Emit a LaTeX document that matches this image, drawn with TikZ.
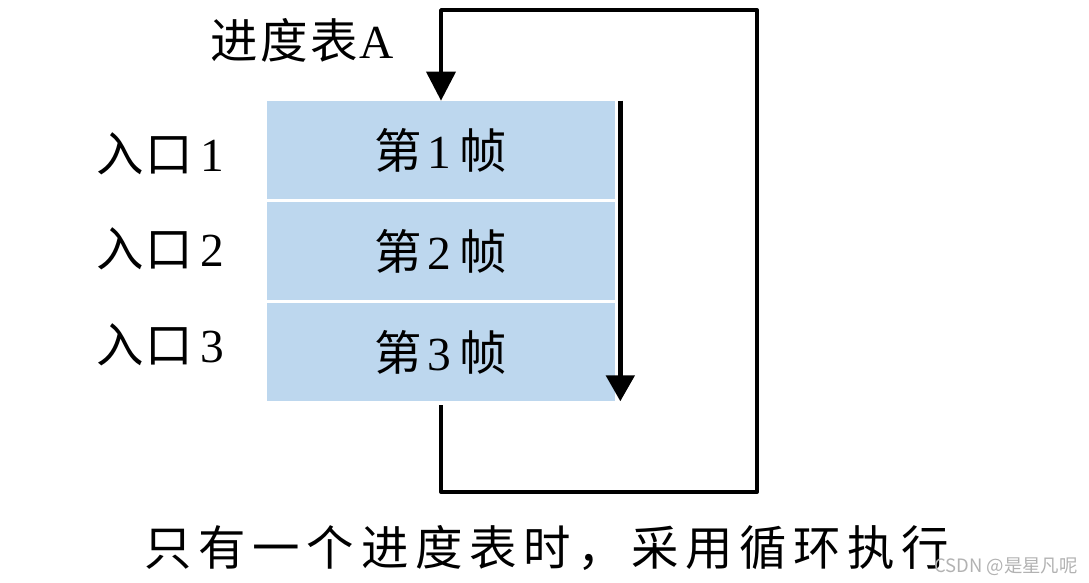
\documentclass[tikz,border=0pt]{standalone}
\usepackage{fontspec}
\setmainfont{Liberation Serif}
\newfontfamily\cjk{Noto Sans CJK SC}[LetterSpace=5]
\newfontfamily\cjkwide{Noto Sans CJK SC}[LetterSpace=14]
\newfontfamily\wmfont{Noto Sans CJK SC}
\usepackage{tikz}
\usetikzlibrary{arrows.meta,%
                positioning}
\definecolor{frameblue}{RGB}{189,215,238}

\begin{document}
\begin{tikzpicture}[x=0.02cm,y=-0.02cm,
  frame/.style={fill=frameblue, minimum width=6.96cm, minimum height=1.96cm,
                inner sep=0pt, font=\fontsize{27}{32}\selectfont},
  tag/.style={inner sep=0pt, font=\fontsize{27}{32}\selectfont},
  loopline/.style={line width=2.2pt, line join=round,
                   -{Triangle[width=0.58cm,length=0.58cm]}},
  passline/.style={line width=2.8pt,
                   -{Triangle[width=0.56cm,length=0.52cm]}}]
\useasboundingbox (0,0) rectangle (1089,582);
%frames
\node[frame] (f1) at (441,150) {{\cjk 第}\kern3pt1\kern5pt{\cjk 帧}};
\node[frame] (f2) at (441,251) {{\cjk 第}\kern3pt2\kern5pt{\cjk 帧}};
\node[frame] (f3) at (441,352) {{\cjk 第}\kern3pt3\kern5pt{\cjk 帧}};
%entries
\node[tag] (e1) at (160,154) {{\cjk 入口}\kern4pt1};
\node[tag] (e2) at (160,249) {{\cjk 入口}\kern4pt2};
\node[tag] (e3) at (160,345) {{\cjk 入口}\kern4pt3};
\node[tag] (tabA) at (302,40) {{\cjk 进度表}\kern1pt A};
\node[tag] (note) at (547,548) {\cjkwide 只有一个进度表时，采用循环执行};
\node[inner sep=0pt, text=black!30, font=\wmfont\fontsize{10.5}{12}\selectfont]
  (wm) at (1006,567) {CSDN @是星凡呢};
%loop
\coordinate (br) at (757,492);
\coordinate (tr) at (757,10);
\draw[loopline] ([yshift=-0.08cm]f3.south) |- (br) -- (tr) -| (f1.north);
\draw[passline] ([xshift=0.1cm]f1.north east) -- ([xshift=0.1cm]f3.south east);
\end{tikzpicture}
\end{document}
